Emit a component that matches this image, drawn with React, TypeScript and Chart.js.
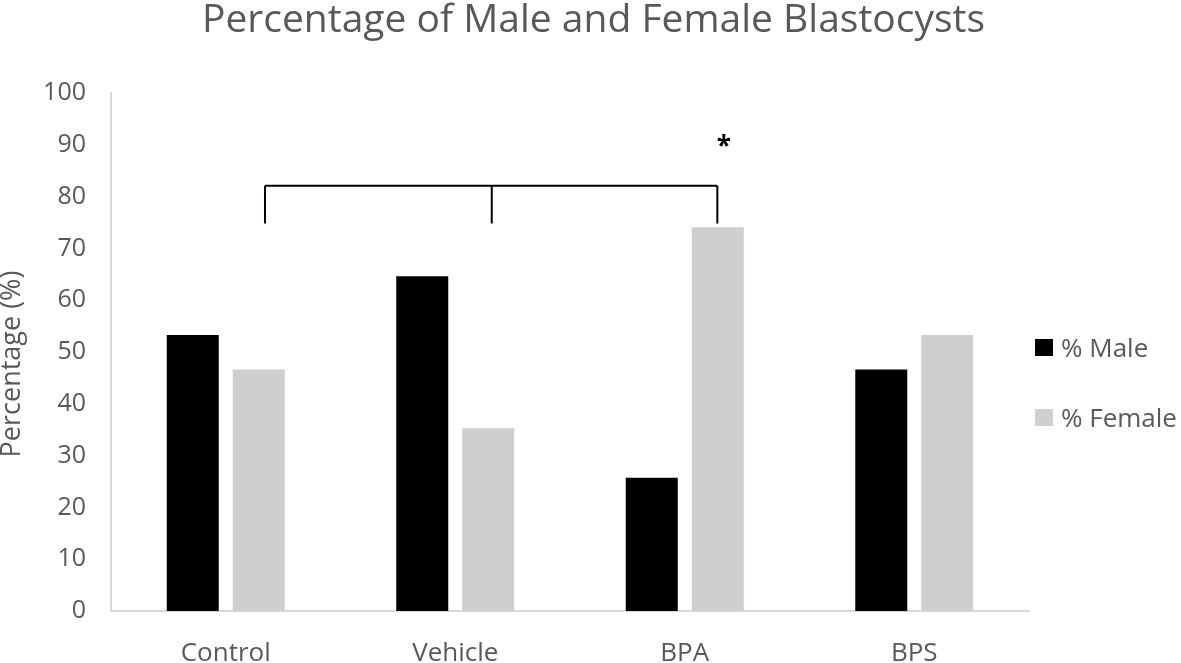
import React, { useEffect, useRef } from "react";
import { Chart, registerables } from "chart.js";

Chart.register(...registerables);

const categories = ["Control", "Vehicle", "BPA", "BPS"];
const maleValues = [53.3, 64.6, 25.7, 46.6];
const femaleValues = [46.6, 35.3, 74.1, 53.3];
const seriesLabels = ["% Male", "% Female"];
const yTicks = { min: 0, max: 100, step: 10 };
const titleText = "Percentage of Male and Female Blastocysts";
const yAxisTitle = "Percentage (%)";
// significance bracket: x in category units, y in data units
const bracketXs = [0.171, 1.159, 2.142];
const bracketTop = 82.1;
const bracketBottom = 74.8;
const starPos = [2.17, 88.0];

const TEXT = "#595959";
const FONT = "'Open Sans', 'Noto Sans', sans-serif";
const MALE = "#000000";
const FEMALE = "#d0cece";

const overlay = {
  id: "overlay",
  afterDraw(chart: any) {
    const ctx = chart.ctx;
    const ys = chart.scales.y;
    const area = chart.chartArea;
    const catW = (area.right - area.left) / categories.length;
    const xAt = (u: number) => area.left + catW * (u + 0.5);
    ctx.save();
    // title
    ctx.fillStyle = TEXT;
    ctx.font = `39px ${FONT}`;
    ctx.textAlign = "center";
    ctx.textBaseline = "alphabetic";
    ctx.fillText(titleText, chart.width / 2 + 3, 32);
    // y axis title
    ctx.save();
    ctx.font = `27px ${FONT}`;
    ctx.translate(20, 364);
    ctx.rotate(-Math.PI / 2);
    ctx.textAlign = "center";
    ctx.fillText(yAxisTitle, 0, 0);
    ctx.restore();
    // legend
    const legendX = area.right + 6;
    const rows = [357, 427];
    ctx.font = `26px ${FONT}`;
    ctx.textAlign = "left";
    [MALE, FEMALE].forEach((c, i) => {
      ctx.fillStyle = c;
      ctx.fillRect(legendX, rows[i] - 18, 18, 17);
      ctx.fillStyle = TEXT;
      ctx.fillText(seriesLabels[i], legendX + 26, rows[i]);
    });
    // bracket
    ctx.strokeStyle = "#000";
    ctx.lineWidth = 2;
    ctx.beginPath();
    const yTop = ys.getPixelForValue(bracketTop);
    const yBot = ys.getPixelForValue(bracketBottom);
    ctx.moveTo(xAt(bracketXs[0]), yTop);
    ctx.lineTo(xAt(bracketXs[bracketXs.length - 1]), yTop);
    bracketXs.forEach((u) => {
      ctx.moveTo(xAt(u), yTop);
      ctx.lineTo(xAt(u), yBot);
    });
    ctx.stroke();
    // asterisk
    ctx.fillStyle = "#000";
    ctx.font = `bold 26px ${FONT}`;
    ctx.textAlign = "center";
    ctx.fillText("*", xAt(starPos[0]), ys.getPixelForValue(starPos[1]));
    ctx.restore();
  },
};

export default function App() {
  const ref = useRef<HTMLCanvasElement>(null);
  useEffect(() => {
    document.body.style.margin = "0";
    const chart = new Chart(ref.current as HTMLCanvasElement, {
      type: "bar",
      data: {
        labels: categories,
        datasets: [
          { label: seriesLabels[0], data: maleValues, backgroundColor: MALE },
          { label: seriesLabels[1], data: femaleValues, backgroundColor: FEMALE },
        ],
      },
      options: {
        animation: false,
        responsive: false,
        events: [],
        layout: { padding: { top: 93, right: 152, bottom: 0, left: 0 } },
        datasets: { bar: { categoryPercentage: 0.575, barPercentage: 0.788 } },
        plugins: { legend: { display: false }, title: { display: false }, tooltip: { enabled: false } },
        scales: {
          x: {
            grid: { display: false, drawTicks: false },
            border: { display: true, color: "#d9d9d9", width: 2 },
            ticks: { color: TEXT, font: { family: FONT, size: 26 }, padding: 27 },
            afterFit: (s: any) => { s.height = 52; },
          },
          y: {
            min: yTicks.min,
            max: yTicks.max,
            grid: { display: false, drawTicks: false },
            border: { display: true, color: "#d9d9d9", width: 2 },
            ticks: { stepSize: yTicks.step, color: TEXT, font: { family: FONT, size: 25 }, padding: 25 },
            afterFit: (s: any) => { s.width = 111; },
          },
        },
      },
      plugins: [overlay],
    });
    return () => chart.destroy();
  }, []);
  return (
    <div style={{ width: 1181, height: 663 }}>
      <canvas ref={ref} width={1181} height={663} />
    </div>
  );
}
